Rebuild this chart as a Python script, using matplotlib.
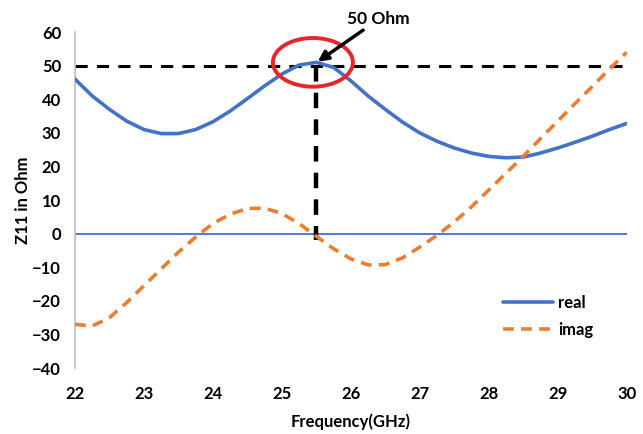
import matplotlib.pyplot as plt
from matplotlib.patches import Ellipse

plt.rcParams['font.family'] = ['Lato', 'DejaVu Sans']

freq = [22, 22.25, 22.5, 22.75, 23, 23.25, 23.5, 23.75, 24, 24.25, 24.5, 24.75,
        25, 25.25, 25.5, 25.75, 26, 26.25, 26.5, 26.75, 27, 27.25, 27.5, 27.75,
        28, 28.25, 28.5, 28.75, 29, 29.25, 29.5, 29.75, 30]
real = [46, 41, 37, 33.5, 31, 29.8, 29.8, 31, 33.3, 36.5, 40.2, 44,
        47.5, 50.2, 51, 49.5, 45.5, 41, 37, 33.2, 30, 27.5, 25.5, 24,
        23, 22.6, 22.8, 24, 25.5, 27.2, 29, 31, 32.8]
imag = [-27, -27.5, -25, -20.5, -15.5, -10.5, -5.5, -1, 3, 5.8, 7.5, 7.6,
        6, 3, -0.8, -4.5, -7.5, -9.3, -9.2, -7.2, -4, -0.5, 3.5, 8,
        13, 18, 23, 28.3, 33.5, 38.7, 43.8, 49, 54]

ref_level = 50
match_freq = 25.5
yticks = list(range(-40, 61, 10))
xticks = list(range(22, 31))

fig = plt.figure(figsize=(6.43, 4.34), dpi=100)
ax = fig.add_axes([0.1166, 0.152, 0.858, 0.774])

ax.axhline(0, color='#4472C4', lw=1.3, zorder=1)
ax.plot(freq, real, color='#4472C4', lw=2.6, label='real', zorder=3,
        solid_joinstyle='round', solid_capstyle='round')
ax.plot(freq, imag, color='#ED7D31', lw=2.6, ls=(0, (3, 2)), label='imag', zorder=3,
        dash_joinstyle='round')

# reference lines
ax.plot([22, 30], [ref_level, ref_level], color='black', lw=2.2, ls=(0, (4, 3)), zorder=2)
ax.plot([match_freq, match_freq], [ref_level, -2], color='black', lw=3.2, ls=(0, (3.5, 2.5)), zorder=2)

# highlight
ell = Ellipse((25.45, 51), 1.16, 14.5, fill=False, edgecolor='#E8262A', lw=2.8, zorder=4)
ax.add_patch(ell)
ax.annotate('50 Ohm', xy=(25.52, 51.2), xytext=(25.95, 63.8),
            fontsize=12.5, fontweight='bold', ha='left', va='center',
            arrowprops=dict(arrowstyle='-|>', color='black', lw=2.5, mutation_scale=15,
                            shrinkA=0, shrinkB=0),
            annotation_clip=False, zorder=5)

ax.set_xlim(22, 30)
ax.set_ylim(-40, 60)
ax.set_xticks(xticks)
ax.set_yticks(yticks)
ax.tick_params(length=0, labelsize=12)
ax.tick_params(axis='x', pad=13)
ax.tick_params(axis='y', pad=10)
for lab in ax.get_xticklabels() + ax.get_yticklabels():
    lab.set_fontweight('bold')

for s in ['top', 'right', 'bottom']:
    ax.spines[s].set_visible(False)
ax.spines['left'].set_color('#BFBFBF')
ax.spines['left'].set_linewidth(1.2)

ax.set_xlabel('Frequency(GHz)', fontsize=12, fontweight='bold', labelpad=8)
ax.set_ylabel('Z11 in Ohm', fontsize=12, fontweight='bold', labelpad=1)

ax.legend(loc='lower right', bbox_to_anchor=(0.955, 0.065), frameon=False, borderpad=0,
          handlelength=3.0, handletextpad=0.3, labelspacing=0.65,
          prop={'weight': 'bold', 'size': 12})

fig.savefig('out.png', dpi=100)
